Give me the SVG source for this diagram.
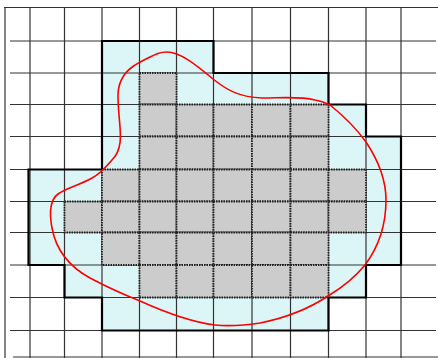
<svg xmlns="http://www.w3.org/2000/svg" width="438" height="358" viewBox="0 0 438 358">
<style>
.grid line{stroke:#333;stroke-width:1.2}
.border{stroke:#888;stroke-width:1.5}
.g{fill:#cccccc;stroke:#222;stroke-width:1.8;stroke-dasharray:1.5 1}
.region{fill:#dcf6f7;stroke:none}
.outline{fill:none;stroke:#000;stroke-width:2.2;stroke-linejoin:miter}
.curve{fill:none;stroke:#ff0000;stroke-width:1.6}
</style>
<rect width="438" height="358" fill="#fff"/>
<g id="region-fill">
<path class="region" d="M102,41 L213.5,41 L213.5,73 L328.5,73 L328.5,104.5 L366,104.5 L366,136.5 L401,136.5 L401,265 L366,265 L366,297.5 L328.5,297.5 L328.5,330.5 L102,330.5 L102,297.5 L64.5,297.5 L64.5,265 L28.5,265 L28.5,169.5 L102,169.5 Z"/>
</g>
<g id="grid" class="grid">
<line class="border" x1="4" y1="7.5" x2="438" y2="7.5"/>
<line x1="5" y1="7" x2="5" y2="358"/>
<line class="border" x1="13" y1="357" x2="438" y2="357"/>
<line x1="30" y1="7" x2="30" y2="358"/>
<line x1="64.5" y1="7" x2="64.5" y2="358"/>
<line x1="102" y1="7" x2="102" y2="358"/>
<line x1="139.5" y1="7" x2="139.5" y2="358"/>
<line x1="176.5" y1="7" x2="176.5" y2="358"/>
<line x1="213.5" y1="7" x2="213.5" y2="358"/>
<line x1="252" y1="7" x2="252" y2="358"/>
<line x1="290.5" y1="7" x2="290.5" y2="358"/>
<line x1="328.5" y1="7" x2="328.5" y2="358"/>
<line x1="366" y1="7" x2="366" y2="358"/>
<line x1="401" y1="7" x2="401" y2="358"/>
<line x1="10" y1="41" x2="436" y2="41"/>
<line x1="10" y1="73" x2="436" y2="73"/>
<line x1="10" y1="104.5" x2="436" y2="104.5"/>
<line x1="10" y1="136.5" x2="436" y2="136.5"/>
<line x1="10" y1="169.5" x2="436" y2="169.5"/>
<line x1="10" y1="201.5" x2="436" y2="201.5"/>
<line x1="10" y1="232.5" x2="436" y2="232.5"/>
<line x1="10" y1="265" x2="436" y2="265"/>
<line x1="10" y1="297.5" x2="436" y2="297.5"/>
<line x1="10" y1="330.5" x2="436" y2="330.5"/>
</g>
<g id="gray-cells">
<rect class="g" x="139.5" y="73" width="37" height="31.5"/>
<rect class="g" x="139.5" y="104.5" width="37" height="32"/>
<rect class="g" x="176.5" y="104.5" width="37" height="32"/>
<rect class="g" x="213.5" y="104.5" width="38.5" height="32"/>
<rect class="g" x="252" y="104.5" width="38.5" height="32"/>
<rect class="g" x="290.5" y="104.5" width="38" height="32"/>
<rect class="g" x="139.5" y="136.5" width="37" height="33"/>
<rect class="g" x="176.5" y="136.5" width="37" height="33"/>
<rect class="g" x="213.5" y="136.5" width="38.5" height="33"/>
<rect class="g" x="252" y="136.5" width="38.5" height="33"/>
<rect class="g" x="290.5" y="136.5" width="38" height="33"/>
<rect class="g" x="102" y="169.5" width="37.5" height="32"/>
<rect class="g" x="139.5" y="169.5" width="37" height="32"/>
<rect class="g" x="176.5" y="169.5" width="37" height="32"/>
<rect class="g" x="213.5" y="169.5" width="38.5" height="32"/>
<rect class="g" x="252" y="169.5" width="38.5" height="32"/>
<rect class="g" x="290.5" y="169.5" width="38" height="32"/>
<rect class="g" x="328.5" y="169.5" width="37.5" height="32"/>
<rect class="g" x="64.5" y="201.5" width="37.5" height="31"/>
<rect class="g" x="102" y="201.5" width="37.5" height="31"/>
<rect class="g" x="139.5" y="201.5" width="37" height="31"/>
<rect class="g" x="176.5" y="201.5" width="37" height="31"/>
<rect class="g" x="213.5" y="201.5" width="38.5" height="31"/>
<rect class="g" x="252" y="201.5" width="38.5" height="31"/>
<rect class="g" x="290.5" y="201.5" width="38" height="31"/>
<rect class="g" x="328.5" y="201.5" width="37.5" height="31"/>
<rect class="g" x="102" y="232.5" width="37.5" height="32.5"/>
<rect class="g" x="139.5" y="232.5" width="37" height="32.5"/>
<rect class="g" x="176.5" y="232.5" width="37" height="32.5"/>
<rect class="g" x="213.5" y="232.5" width="38.5" height="32.5"/>
<rect class="g" x="252" y="232.5" width="38.5" height="32.5"/>
<rect class="g" x="290.5" y="232.5" width="38" height="32.5"/>
<rect class="g" x="139.5" y="265" width="37" height="32.5"/>
<rect class="g" x="176.5" y="265" width="37" height="32.5"/>
<rect class="g" x="213.5" y="265" width="38.5" height="32.5"/>
<rect class="g" x="252" y="265" width="38.5" height="32.5"/>
<rect class="g" x="290.5" y="265" width="38" height="32.5"/>
</g>
<g id="region-outline">
<path class="outline" d="M102,41 L213.5,41 L213.5,73 L328.5,73 L328.5,104.5 L366,104.5 L366,136.5 L401,136.5 L401,265 L366,265 L366,297.5 L328.5,297.5 L328.5,330.5 L102,330.5 L102,297.5 L64.5,297.5 L64.5,265 L28.5,265 L28.5,169.5 L102,169.5 Z"/>
</g>
<g id="curve">
<path class="curve" d="M167,52 C180,52 195,64 213,79 C228,91 240,97 262,98 C280,98 300,96 315,100 C322,101 326,103 330,105 C345,117 356,128 366,142 C378,160 386,178 386,200 C386,225 380,245 365,265 C352,281 338,290 328,296 C310,308 285,318 260,323 C240,326 225,326 215,325 C190,322 160,310 140,301 C120,293 105,286 90,278 C70,267 56,250 52,228 C49,212 50,200 58,194 C66,188 80,185 92,178 C100,174 106,167 112,160 C124,148 120,130 119,115 C118,100 116,88 123,77 C128,68 138,63 148,58 C156,54 160,52 167,52 Z"/>
</g>
</svg>
